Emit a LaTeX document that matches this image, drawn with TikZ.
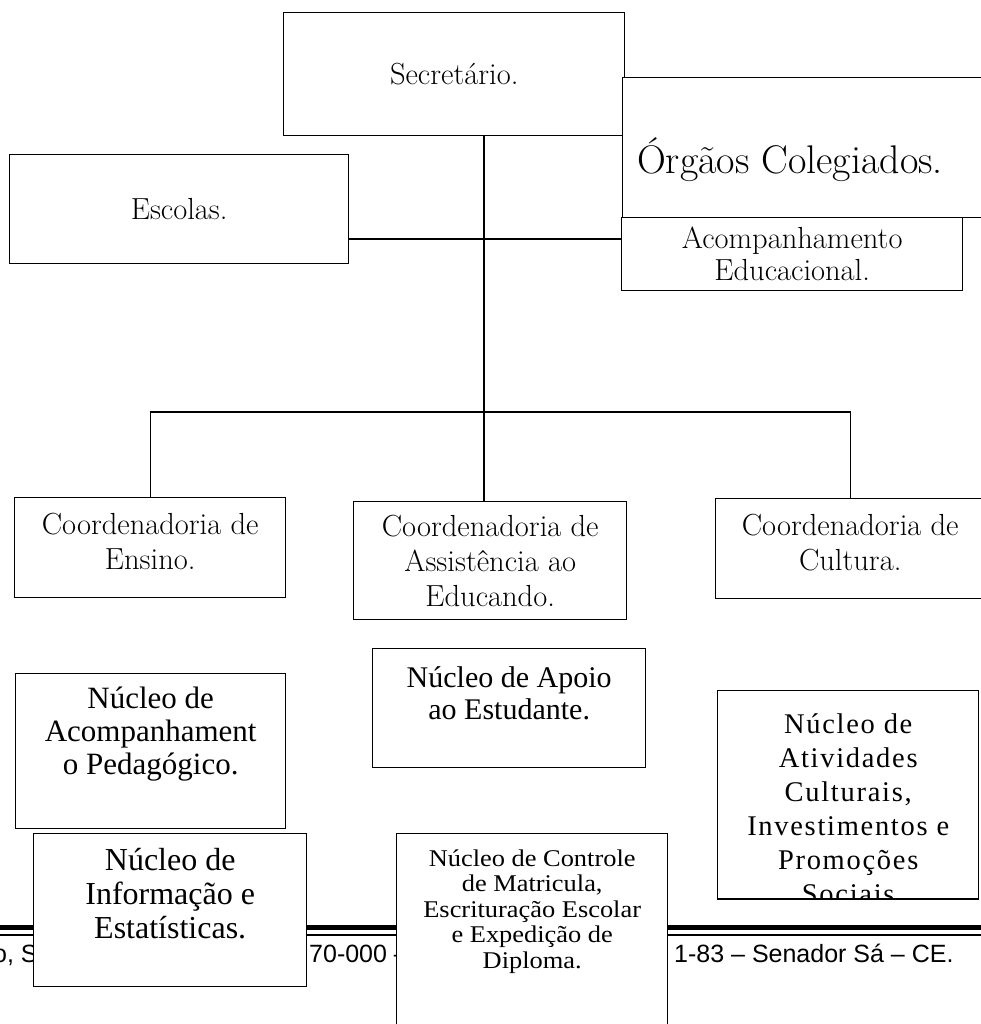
\documentclass[tikz,border=0pt]{standalone}
\usepackage{fontspec}
\usetikzlibrary{positioning,calc}
\newfontfamily\timesfont{Liberation Serif}
\newfontfamily\widetimes[FakeStretch=1.1]{Liberation Serif}
\newfontfamily\spacedtimes[LetterSpace=6]{Liberation Serif}
\newfontfamily\arialfont{Liberation Sans}
\newcommand{\centfont}{\fontsize{30.5}{35}\selectfont}
\tikzset{
  unitbox/.style={
    draw, line width=1.4pt, fill=white, anchor=north west,
    inner sep=2pt, align=center, font=\centfont
  },
  nucleo/.style={unitbox, font=\timesfont\fontsize{30}{32}\selectfont},
  connector/.style={line width=1.4pt},
  footthick/.style={line width=5pt},
  footthin/.style={line width=1.5pt},
  foottext/.style={font=\arialfont\fontsize{25}{28}\selectfont, anchor=base west, inner sep=0pt}
}
\begin{document}
\begin{tikzpicture}[x=1pt, y=-1pt]
  \useasboundingbox (0,0) rectangle (981,1024);
  % footer of the page, behind the boxes
  \draw[footthick] (0,927.5) -- (981,927.5);
  \draw[footthin] (0,935) -- (981,935);
  \node[foottext] (addr1) at (-7,962) {o, S};
  \node[foottext] (addr2) at (309,962) {70-000 –};
  \node[foottext] (addr3) at (674,962) {1-83 – Senador Sá – CE.};

  % top of the chart
  \node[unitbox, minimum width=341pt, minimum height=123pt] (sec) at (283,12) {Secretário.};
  \node[unitbox, minimum width=400pt, minimum height=140pt] (org) at (622,77) {};
  \node[font=\fontsize{40}{44}\selectfont] (orgtext) at (790,160) {Órgãos Colegiados.};
  \node[unitbox, minimum width=341pt, minimum height=73pt, font=\fontsize{30.5}{32}\selectfont] (acomp) at (621,217) {Acompanhamento\\Educacional.};
  \node[unitbox, minimum width=339pt, minimum height=109pt] (esc) at (9,154) {Escolas.};

  % coordenadorias
  \node[unitbox, minimum width=271pt, minimum height=100pt, text depth=12pt] (ens) at (14,497) {Coordenadoria de\\Ensino.};
  \node[unitbox, minimum width=273pt, minimum height=118pt] (assist) at (353,501) {Coordenadoria de\\Assistência ao\\Educando.};
  \node[unitbox, minimum width=269pt, minimum height=100pt, text depth=12pt] (cult) at (715,498) {Coordenadoria de\\Cultura.};

  % nucleos
  \node[nucleo, minimum width=273pt, minimum height=119pt, text depth=30pt] (apoio) at (372,648) {Núcleo de Apoio\\ao Estudante.};
  \node[nucleo, minimum width=270pt, minimum height=155pt, text depth=40pt, font=\timesfont\fontsize{31}{33}\selectfont] (pedag) at (15,673) {Núcleo de\\Acompanhament\\o Pedagógico.};
  \node[nucleo, minimum width=273pt, minimum height=153pt, text depth=34pt, font=\timesfont\fontsize{32}{34}\selectfont] (inform) at (33,833) {Núcleo de\\Informação e\\Estatísticas.};
  \node[nucleo, minimum width=271pt, minimum height=200pt, text depth=50pt, font=\widetimes\fontsize{24}{25.5}\selectfont] (ctrl) at (396,833) {Núcleo de Controle\\de Matricula,\\Escrituração Escolar\\e Expedição de\\Diploma.};
  \node[unitbox, minimum width=261pt, minimum height=208pt] (ativ) at (717,690) {};
  \begin{scope}
    \clip (ativ.north west) rectangle (ativ.south east);
    \node[align=center, font=\spacedtimes\fontsize{28.5}{34}\selectfont, yshift=-14pt]
      (ativtext) at (ativ.center)
      {Núcleo de\\Atividades\\Culturais,\\Investimentos e\\Promoções\\Sociais};
  \end{scope}
  \draw[line width=1.4pt] (ativ.south west) -- (ativ.south east);

  % links
  \coordinate (hub) at (484,412);
  \coordinate (esclink) at (0,239);
  \draw[connector] (sec.south -| hub) -- (assist.north -| hub);
  \draw[connector] (ens.north) |- (hub) -| (cult.north);
  \draw[connector] (esc.east |- esclink) -- (acomp.west |- esclink);
\end{tikzpicture}
\end{document}
